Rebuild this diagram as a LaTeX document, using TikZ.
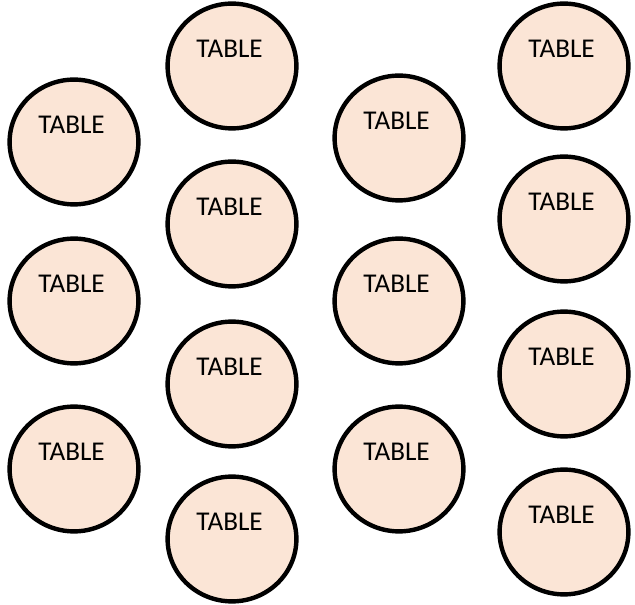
\documentclass[tikz,border=0pt]{standalone}
\usepackage{fontspec}
\setmainfont{Carlito}
\usepackage{xcolor}
\usepackage{tikz}
\usetikzlibrary{shapes.geometric}
\definecolor{tablefill}{RGB}{251,229,214}

\begin{document}
\begin{tikzpicture}[x=0.25mm, y=0.25mm,
		tbl/.style={ellipse, draw=black, line width=1.1mm, fill=tablefill,
			minimum width=32.2mm, minimum height=31.2mm, inner sep=0pt,
			label={[font=\fontsize{19.3}{23}\selectfont, xshift=-0.6mm, yshift=4.4mm]center:TABLE}}]
		\useasboundingbox (0,0) rectangle (635,605);
		
		% Column 1
		\node[tbl] (t1) at (74,463) {};
		\node[tbl] (t2) at (74,304) {};
		\node[tbl] (t3) at (74,136) {};
		
		% Column 2
		\node[tbl] (t4) at (232,539) {};
		\node[tbl] (t5) at (232,381) {};
		\node[tbl] (t6) at (232,221) {};
		\node[tbl] (t7) at (232,66) {};
		
		% Column 3
		\node[tbl] (t8) at (399,467) {};
		\node[tbl] (t9) at (399,304) {};
		\node[tbl] (t10) at (399,136) {};
		
		% Column 4
		\node[tbl] (t11) at (564,539) {};
		\node[tbl] (t12) at (564,386) {};
		\node[tbl] (t13) at (564,231) {};
		\node[tbl] (t14) at (564,73) {};
	\end{tikzpicture}
\end{document}
